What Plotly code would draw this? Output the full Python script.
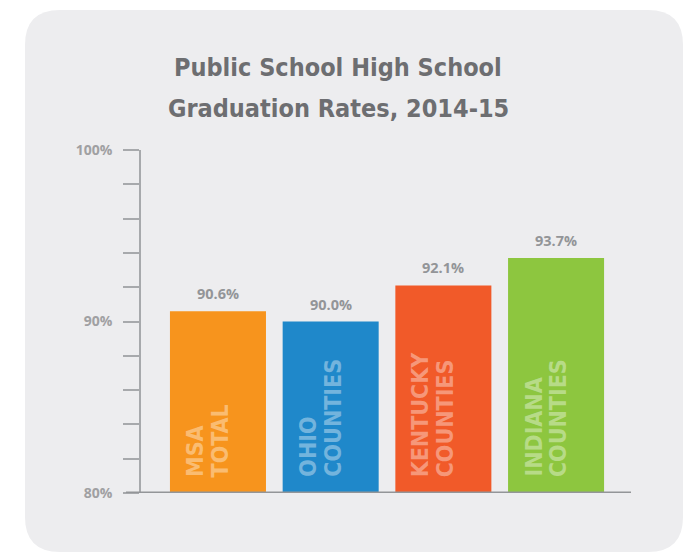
import plotly.graph_objects as go

categories = ["MSA TOTAL", "OHIO COUNTIES", "KENTUCKY COUNTIES", "INDIANA COUNTIES"]
label_line1 = ["MSA", "OHIO", "KENTUCKY", "INDIANA"]
label_line2 = ["TOTAL", "COUNTIES", "COUNTIES", "COUNTIES"]
values = [90.6, 90.0, 92.1, 93.7]
value_text = ["90.6%", "90.0%", "92.1%", "93.7%"]
bar_colors = ["#F7941D", "#1F88CA", "#F15A29", "#8DC63F"]
y_tickvals = [80, 90, 100]
y_ticktext = ["80%", "90%", "100%"]
title_lines = ["Public School High School", "Graduation Rates, 2014-15"]

W, H = 696, 553
L, R, T, B = 141, 631, 150, 493  # plot area in pixels

def px(x):
    return (x - L) / (R - L)

def py(y):
    return (B - y) / (B - T)

NARROW = "Liberation Sans Narrow, DejaVu Sans Condensed, Arial Narrow, sans-serif"
OPEN = "Open Sans, DejaVu Sans, sans-serif"

fig = go.Figure()
fig.add_trace(go.Bar(
    x=categories, y=values,
    marker=dict(color=bar_colors, line=dict(width=0)),
    hoverinfo="skip",
))

annotations = []
for c, v, t in zip(categories, values, value_text):
    annotations.append(dict(
        x=c, y=v, xref="x", yref="y", text=t, showarrow=False,
        yanchor="bottom", yshift=6,
        font=dict(family=OPEN, size=14.5, color="#939598", weight="bold"),
    ))
for c, l1, l2 in zip(categories, label_line1, label_line2):
    for txt, xs in ((l1, -23), (l2, 2)):
        annotations.append(dict(
            x=c, y=80, xref="x", yref="y", text=txt, showarrow=False,
            textangle=-90, yanchor="bottom", xanchor="center",
            xshift=xs, yshift=14,
            font=dict(family=NARROW, size=23, color="rgba(255,255,255,0.38)", weight="bold"),
        ))
for i, line in enumerate(title_lines):
    annotations.append(dict(
        x=px(338), y=py(68 + 40 * i), xref="paper", yref="paper", text=line,
        showarrow=False, xanchor="center", yanchor="middle",
        font=dict(family=NARROW, size=25, color="#6D6E71", weight="bold"),
    ))

# rounded background panel
x0, x1, y0, y1, r = 25, 683, 10, 552, 35
pts = [
    ("M", x0 + r, y0), ("L", x1 - r, y0), ("Q", x1, y0, x1, y0 + r),
    ("L", x1, y1 - r), ("Q", x1, y1, x1 - r, y1), ("L", x0 + r, y1),
    ("Q", x0, y1, x0, y1 - r), ("L", x0, y0 + r), ("Q", x0, y0, x0 + r, y0),
]
path = ""
for p in pts:
    cmd, coords = p[0], p[1:]
    s = []
    for j in range(0, len(coords), 2):
        s.append(f"{px(coords[j]):.5f},{py(coords[j+1]):.5f}")
    path += cmd + " " + " ".join(s) + " "
path += "Z"

shapes = [
    dict(type="path", path=path, xref="paper", yref="paper",
         fillcolor="#EDEDEF", line=dict(width=0), layer="below"),
    dict(type="line", xref="paper", yref="y", x0=px(126), x1=1, y0=80, y1=80,
         line=dict(color="#939598", width=3), layer="above"),
]

fig.update_layout(
    width=W, height=H, autosize=False,
    margin=dict(l=L, r=W - R, t=T, b=H - B, pad=0),
    paper_bgcolor="white", plot_bgcolor="rgba(0,0,0,0)",
    showlegend=False, bargap=0.148,
    annotations=annotations, shapes=shapes,
    xaxis=dict(
        type="category", range=[-0.683, 3.665], showticklabels=False,
        showgrid=False, zeroline=False, showline=False, ticks="",
        fixedrange=True,
    ),
    yaxis=dict(
        range=[80, 100], tickvals=y_tickvals, ticktext=y_ticktext,
        showgrid=False, zeroline=False, showline=True, linecolor="#A7A9AC",
        linewidth=1.5, ticks="outside", ticklen=16, tickwidth=1.5,
        tickcolor="#A7A9AC", ticklabelstandoff=8,
        tickfont=dict(family=OPEN, size=14, color="#A0A0A2", weight="bold"),
        minor=dict(dtick=2, ticks="outside", ticklen=16, tickwidth=1.5,
                   tickcolor="#A7A9AC", showgrid=False),
        fixedrange=True,
    ),
)

fig.write_html("out.html")
